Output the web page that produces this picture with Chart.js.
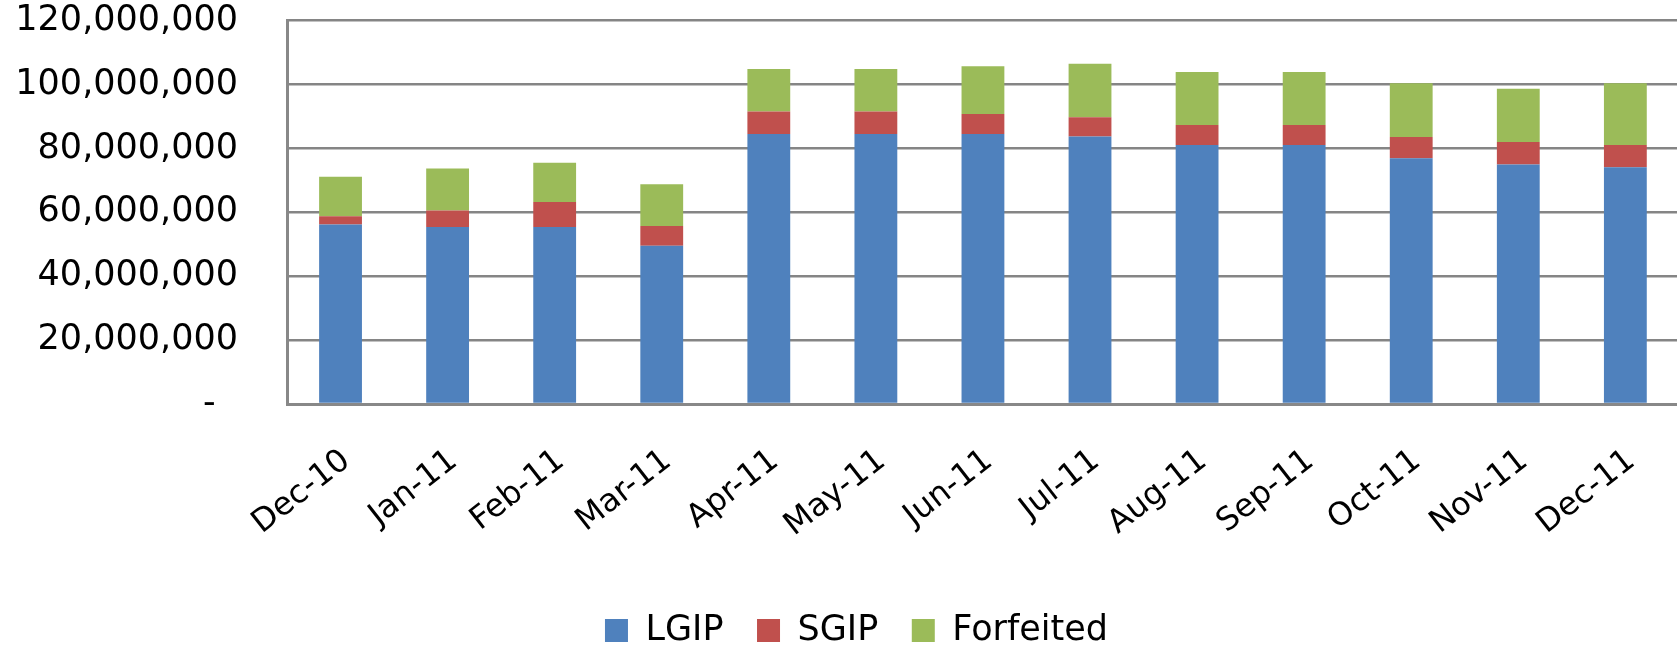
<!DOCTYPE html>
<html>
<head>
<meta charset="utf-8">
<script src="https://cdn.jsdelivr.net/npm/chart.js@4/dist/chart.umd.min.js"></script>
<style>
  html, body { margin: 0; padding: 0; background: #fff; overflow: hidden; }
  #wrap { position: relative; width: 1687px; height: 647px; }
  #c { display: block; }
</style>
</head>
<body>
<div id="wrap"><canvas id="c" width="1687" height="647"></canvas></div>
<script>
const categories = ["Dec-10","Jan-11","Feb-11","Mar-11","Apr-11","May-11","Jun-11","Jul-11","Aug-11","Sep-11","Oct-11","Nov-11","Dec-11"];
const lgip      = [56200000, 55400000, 55400000, 49500000, 84500000, 84500000, 84500000, 83700000, 81100000, 81100000, 76900000, 75000000, 74100000];
const sgip      = [ 2600000,  5200000,  7800000,  6200000,  7100000,  7100000,  6300000,  6100000,  6200000,  6200000,  6700000,  7000000,  7000000];
const forfeited = [12300000, 13100000, 12300000, 13100000, 13300000, 13300000, 14900000, 16700000, 16600000, 16600000, 16800000, 16700000, 19300000];
const yTicks = [0, 20000000, 40000000, 60000000, 80000000, 100000000, 120000000];

const FONT = "'DejaVu Sans', sans-serif";

const legendShift = {
  id: 'legendShift',
  afterLayout(chart) {
    if (chart.legend) { chart.legend.left += 13; chart.legend.right += 13; }
  }
};

new Chart(document.getElementById('c'), {
  type: 'bar',
  data: {
    labels: categories,
    datasets: [
      { label: 'LGIP', data: lgip, backgroundColor: '#4F81BD' },
      { label: 'SGIP', data: sgip, backgroundColor: '#C0504D' },
      { label: 'Forfeited', data: forfeited, backgroundColor: '#9BBB59' }
    ]
  },
  plugins: [legendShift],
  options: {
    responsive: false,
    animation: false,
    layout: { padding: { top: 0, right: 0, left: 0, bottom: -11 } },
    datasets: { bar: { categoryPercentage: 1.0, barPercentage: 0.4 } },
    plugins: {
      legend: {
        position: 'bottom',
        labels: {
          font: { family: FONT, size: 35 },
          color: '#000',
          boxWidth: 23,
          boxHeight: 23,
          padding: 33.5
        }
      },
      tooltip: { enabled: false }
    },
    scales: {
      x: {
        stacked: true,
        grid: { display: false, drawTicks: false },
        border: { display: true, color: '#888888', width: 3 },
        ticks: {
          font: { family: FONT, size: 32 },
          color: '#000',
          minRotation: 38,
          maxRotation: 38,
          padding: 38,
          labelOffset: 6,
          autoSkip: false
        },
        afterFit: (s) => { s.height = 175.5; }
      },
      y: {
        stacked: true,
        min: 0,
        max: 120000000,
        afterBuildTicks: (s) => { s.ticks = yTicks.map(v => ({ value: v })); },
        grid: { color: '#858585', lineWidth: 2.4, drawTicks: true, tickLength: 49, tickColor: 'rgba(0,0,0,0)' },
        border: { display: true, color: '#888888', width: 3 },
        ticks: {
          font: { family: FONT, size: 35, lineHeight: 1.18 },
          color: '#000',
          padding: 0,
          callback: (v) => v === 0 ? '-  ' : Number(v).toLocaleString('en-US')
        },
        afterFit: (s) => { s.width = 287; }
      }
    }
  }
});
</script>
</body>
</html>
